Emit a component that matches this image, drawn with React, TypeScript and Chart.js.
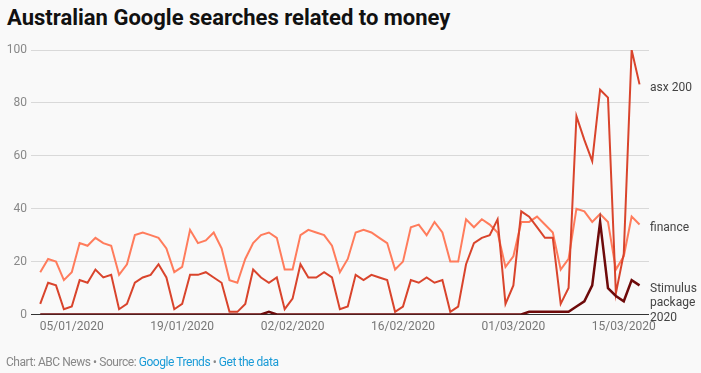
import React, { useEffect, useRef } from 'react';
import { Chart, registerables } from 'chart.js';

Chart.register(...registerables);

// Daily categories, 01/01/2020 .. 17/03/2020
const categories: string[] = (() => {
  const out: string[] = [];
  const d = new Date(Date.UTC(2020, 0, 1));
  for (let i = 0; i < 77; i++) {
    const dd = String(d.getUTCDate()).padStart(2, '0');
    const mm = String(d.getUTCMonth() + 1).padStart(2, '0');
    out.push(`${dd}/${mm}/${d.getUTCFullYear()}`);
    d.setUTCDate(d.getUTCDate() + 1);
  }
  return out;
})();

const tickLabels = ['05/01/2020', '19/01/2020', '02/02/2020', '16/02/2020', '01/03/2020', '15/03/2020'];
const yTicks = [0, 20, 40, 60, 80, 100];

const seriesNames = ['Stimulus package 2020', 'asx 200', 'finance'];
const seriesLabelLines = [['Stimulus', 'package', '2020'], ['asx 200'], ['finance']];

const stimulus = [
  0, 0, 0, 0, 0, 0, 0, 0, 0, 0, 0, 0, 0, 0, 0, 0, 0, 0, 0, 0, 0, 0, 0, 0, 0, 0, 0, 0, 0, 1,
  0, 0, 0, 0, 0, 0, 0, 0, 0, 0, 0, 0, 0, 0, 0, 0, 0, 0, 0, 0, 0, 0, 0, 0, 0, 0, 0, 0, 0, 0,
  0, 0, 1, 1, 1, 1, 1, 1, 3, 5, 11, 35, 10, 7, 5, 13, 11,
];
const asx200 = [
  4, 12, 11, 2, 3, 13, 12, 17, 14, 15, 2, 4, 12, 14, 15, 19, 14, 2, 4, 15, 15, 16, 14, 12, 1, 1,
  4, 17, 14, 12, 14, 2, 6, 19, 14, 14, 16, 14, 2, 3, 15, 13, 15, 14, 13, 1, 3, 13, 12, 14, 12, 13, 1, 3,
  19, 27, 29, 30, 36, 4, 11, 39, 37, 33, 29, 29, 4, 10, 75, 66, 58, 85, 82, 8, 23, 100, 87,
];
const finance = [
  16, 21, 20, 13, 16, 27, 26, 29, 27, 26, 15, 19, 30, 31, 30, 29, 25, 16, 18, 32, 27, 28, 31, 25, 13, 12,
  21, 27, 30, 31, 29, 17, 17, 30, 32, 31, 30, 26, 16, 21, 31, 32, 31, 29, 27, 17, 20, 33, 34, 30, 35, 31, 20, 20,
  36, 33, 36, 34, 31, 18, 22, 35, 35, 37, 34, 31, 17, 21, 40, 39, 35, 38, 35, 17, 22, 37, 34,
];

const seriesValues = [stimulus, asx200, finance];
const seriesColors = ['#6e0a0a', '#d9442c', '#ff7c5c'];

const endLabels = {
  id: 'endLabels',
  afterDatasetsDraw(chart: any) {
    const ctx = chart.ctx;
    ctx.save();
    ctx.font = '12px Roboto';
    ctx.fillStyle = '#444444';
    ctx.textAlign = 'left';
    ctx.textBaseline = 'middle';
    chart.data.datasets.forEach((_ds: any, i: number) => {
      const meta = chart.getDatasetMeta(i);
      const pt = meta.data[meta.data.length - 1];
      const lines = seriesLabelLines[i];
      lines.forEach((l: string, j: number) => {
        ctx.fillText(l, chart.chartArea.right + 1, pt.y + 3.5 + j * 14.3);
      });
    });
    ctx.restore();
  },
};

export default function App() {
  const ref = useRef<HTMLCanvasElement | null>(null);

  useEffect(() => {
    document.body.style.margin = '0';
    document.body.style.background = '#f9f9f9';
    Chart.defaults.font.family = 'Roboto';
    const tickIdx = tickLabels.map((t) => categories.indexOf(t));
    const chart = new Chart(ref.current as HTMLCanvasElement, {
      type: 'line',
      data: {
        datasets: seriesValues.map((vals, i) => ({
          label: seriesNames[i],
          data: vals.map((v, k) => ({ x: k, y: v })),
          borderColor: seriesColors[i],
          backgroundColor: seriesColors[i],
          borderWidth: i === 0 ? 2.5 : 2,
          pointRadius: 0,
          tension: 0,
          fill: false,
        })),
      },
      options: {
        animation: false,
        responsive: false,
        layout: { padding: { left: 0, right: 52, top: 50, bottom: 28 } },
        plugins: { legend: { display: false }, tooltip: { enabled: false } },
        scales: {
          x: {
            type: 'linear',
            min: -1.17,
            max: 77.2,
            grid: { display: false, drawTicks: false },
            border: { display: false },
            afterBuildTicks: (axis: any) => {
              axis.ticks = tickIdx.map((v) => ({ value: v }));
            },
            afterFit: (axis: any) => {
              axis.height = 30.5;
            },
            ticks: {
              autoSkip: false,
              maxRotation: 0,
              padding: 5,
              color: '#777777',
              font: { size: 12, family: 'Roboto' },
              callback: (v: any) => categories[Math.round(Number(v))],
            },
          },
          y: {
            min: 0,
            max: 100,
            afterBuildTicks: (axis: any) => {
              axis.ticks = yTicks.map((v) => ({ value: v }));
            },
            afterFit: (axis: any) => {
              axis.width = 31;
            },
            grid: {
              color: (c: any) => (c.tick && c.tick.value === 0 ? '#333333' : '#d9d9d9'),
              drawTicks: false,
              lineWidth: 1,
            },
            border: { display: false },
            ticks: {
              padding: 4,
              color: '#888888',
              font: { size: 12, family: 'Roboto' },
            },
          },
        },
      },
      plugins: [endLabels],
    } as any);
    return () => chart.destroy();
  }, []);

  return (
    <div style={{ position: 'relative', width: 701, height: 373, background: '#f9f9f9', overflow: 'hidden' }}>
      <div
        style={{
          position: 'absolute',
          left: 7,
          top: 6.5,
          fontFamily: 'Roboto',
          fontWeight: 'bold',
          fontSize: 22,
          lineHeight: '22px',
          color: '#111111',
          whiteSpace: 'nowrap',
        }}
      >
        Australian Google searches related to money
      </div>
      <canvas ref={ref} width={701} height={373} style={{ position: 'absolute', left: 0, top: 0, width: 701, height: 373 }} />
      <div
        style={{
          position: 'absolute',
          left: 6,
          top: 356,
          fontFamily: 'Roboto',
          fontSize: 12,
          lineHeight: '12px',
          letterSpacing: '-0.45px',
          color: '#888888',
          whiteSpace: 'nowrap',
        }}
      >
        Chart: ABC News • Source: <span style={{ color: '#1a9bd7' }}>Google Trends</span> •{' '}
        <span style={{ color: '#1a9bd7' }}>Get the data</span>
      </div>
    </div>
  );
}
